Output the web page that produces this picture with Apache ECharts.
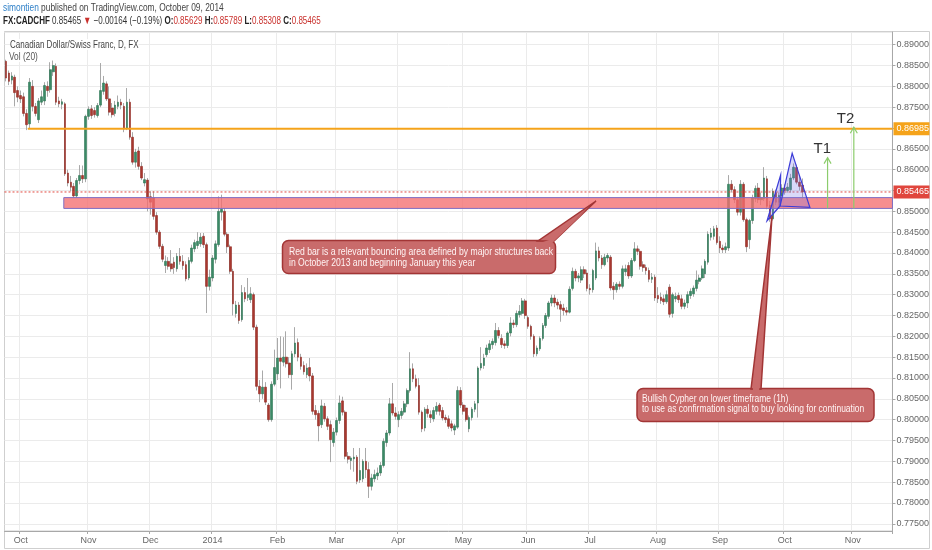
<!DOCTYPE html>
<html>
<head>
<meta charset="utf-8">
<script src="https://cdn.jsdelivr.net/npm/echarts@6/dist/echarts.min.js"></script>
<style>
  html, body { margin: 0; padding: 0; background: #fff; }
  #chart { width: 932px; height: 550px; }
</style>
</head>
<body>
<div id="chart"></div>
<script>
// CADCHF daily. rows are [open, close, low, high]
var candles = [
  [.8860,.8820,.8812,.8864],[.8832,.8812,.8803,.8838],[.8815,.8825,.8805,.8834],[.8822,.8785,.8752,.8828],
  [.8790,.8774,.8762,.8800],[.8778,.8770,.8760,.8790],[.8775,.8735,.8728,.8785],[.8735,.8708,.8695,.8745],
  [.8710,.8810,.8700,.8820],[.8800,.8752,.8740,.8815],[.8752,.8735,.8728,.8760],[.8720,.8765,.8712,.8772],
  [.8762,.8775,.8755,.8790],[.8765,.8802,.8755,.8810],[.8800,.8790,.8775,.8812],[.8792,.8840,.8785,.8858],
  [.8835,.8850,.8825,.8862],[.8848,.8762,.8755,.8855],[.8765,.8758,.8750,.8775],[.8757,.8763,.8745,.8770],
  [.8758,.8590,.8585,.8762],[.8592,.8568,.8560,.8600],[.8570,.8558,.8548,.8585],[.8560,.8537,.8533,.8568],
  [.8537,.8574,.8532,.8580],[.8574,.8586,.8565,.8611],[.8586,.8578,.8568,.8610],[.8578,.8728,.8570,.8732],
  [.8728,.8745,.8720,.8752],[.8746,.8730,.8722,.8755],[.8742,.8732,.8725,.8750],[.8730,.8754,.8725,.8760],
  [.8755,.8790,.8750,.8856],[.8788,.8808,.8780,.8825],[.8806,.8770,.8765,.8812],[.8770,.8738,.8730,.8800],
  [.8748,.8732,.8725,.8760],[.8735,.8755,.8728,.8765],[.8752,.8762,.8745,.8778],[.8762,.8755,.8745,.8770],
  [.8752,.8698,.8690,.8760],[.8700,.8762,.8695,.8796],[.8762,.8678,.8672,.8770],[.8678,.8618,.8612,.8690],
  [.8618,.8642,.8605,.8650],[.8645,.8608,.8600,.8655],[.8608,.8580,.8575,.8618],[.8568,.8576,.8560,.8592],
  [.8575,.8530,.8500,.8580],[.8535,.8522,.8492,.8548],[.8532,.8488,.8480,.8548],[.8490,.8450,.8444,.8498],
  [.8450,.8416,.8410,.8455],[.8416,.8385,.8378,.8422],[.8370,.8380,.8352,.8394],[.8380,.8368,.8360,.8390],
  [.8374,.8362,.8355,.8407],[.8378,.8365,.8350,.8390],[.8362,.8392,.8355,.8400],[.8392,.8380,.8372,.8412],
  [.8380,.8370,.8360,.8395],[.8372,.8338,.8332,.8380],[.8340,.8382,.8335,.8390],[.8380,.8412,.8375,.8420],
  [.8410,.8425,.8402,.8432],[.8418,.8428,.8410,.8450],[.8422,.8438,.8415,.8448],[.8440,.8420,.8412,.8448],
  [.8420,.8320,.8256,.8425],[.8320,.8342,.8310,.8360],[.8340,.8388,.8332,.8395],[.8385,.8422,.8375,.8430],
  [.8420,.8500,.8415,.8536],[.8498,.8505,.8478,.8540],[.8500,.8445,.8440,.8508],[.8445,.8415,.8400,.8450],
  [.8415,.8356,.8350,.8420],[.8356,.8278,.8250,.8362],[.8255,.8275,.8245,.8285],[.8275,.8238,.8230,.8282],
  [.8240,.8305,.8235,.8323],[.8305,.8290,.8282,.8318],[.8293,.8300,.8285,.8340],[.8288,.8302,.8280,.8318],
  [.8300,.8222,.8215,.8305],[.8222,.8080,.8070,.8228],[.8080,.8062,.8042,.8095],[.8062,.8078,.8050,.8118],
  [.8078,.8042,.8035,.8090],[.8035,.8000,.7995,.8040],[.8000,.8085,.7995,.8092],[.8085,.8125,.8080,.8168],
  [.8110,.8148,.8095,.8196],[.8148,.8140,.8075,.8200],[.8138,.8150,.8128,.8198],[.8150,.8134,.8125,.8212],
  [.8136,.8108,.8100,.8150],[.8108,.8158,.8072,.8165],[.8158,.8184,.8150,.8222],[.8185,.8150,.8140,.8195],
  [.8150,.8128,.8120,.8158],[.8130,.8115,.8108,.8140],[.8108,.8124,.8100,.8135],[.8125,.8105,.8092,.8148],
  [.8105,.8020,.8012,.8112],[.8022,.8012,.8000,.8035],[.8015,.7985,.7948,.8022],[.7988,.8033,.7980,.8048],
  [.8032,.8002,.7995,.8040],[.8002,.7984,.7975,.8008],[.7988,.7952,.7898,.7998],[.7945,.7970,.7935,.7980],
  [.7970,.7998,.7962,.8005],[.7998,.8040,.7990,.8058],[.8045,.8018,.8010,.8055],[.8018,.7912,.7905,.8022],
  [.7912,.7905,.7895,.7922],[.7902,.7908,.7880,.7912],[.7906,.7910,.7875,.7932],[.7910,.7852,.7845,.7915],
  [.7855,.7878,.7848,.7932],[.7858,.7900,.7850,.7905],[.7900,.7880,.7860,.7932],[.7880,.7840,.7812,.7898],
  [.7840,.7860,.7830,.7870],[.7858,.7868,.7850,.7880],[.7865,.7872,.7855,.7885],
  [.7872,.7890,.7865,.7898],[.7890,.7948,.7885,.7955],[.7945,.7968,.7935,.7975],[.7968,.8038,.7962,.8052],
  [.8038,.8016,.8010,.8088],[.8016,.8008,.8000,.8030],[.8000,.8012,.7982,.8020],[.8010,.8020,.8002,.8028],
  [.8018,.8038,.8012,.8045],[.8038,.8070,.8030,.8075],[.8070,.8122,.8065,.8162],[.8122,.8098,.8090,.8135],
  [.8098,.8080,.8075,.8108],[.8082,.8018,.8012,.8100],[.8018,.7978,.7970,.8022],[.7980,.8025,.7972,.8030],
  [.8025,.8015,.8005,.8035],[.8012,.8005,.7992,.8022],[.8002,.8022,.7995,.8030],
  [.8020,.8032,.8012,.8042],[.8035,.8020,.8010,.8040],[.8022,.8004,.7998,.8030],[.8005,.8000,.7992,.8012],
  [.8002,.7984,.7978,.8010],[.7990,.7980,.7972,.7998],[.7975,.7985,.7963,.7990],[.7982,.8070,.7978,.8080],
  [.8070,.8035,.8028,.8078],[.8035,.8020,.8012,.8042],[.8028,.8000,.7995,.8035],[.7978,.8005,.7970,.8010],
  [.8005,.8025,.7998,.8030],[.8025,.8038,.8018,.8045],[.8040,.8124,.8005,.8128],[.8124,.8135,.8118,.8174],
  [.8130,.8148,.8122,.8158],[.8156,.8172,.8150,.8180],[.8168,.8182,.8160,.8191],[.8180,.8188,.8170,.8195],
  [.8185,.8214,.8178,.8232],[.8214,.8202,.8195,.8222],[.8195,.8180,.8172,.8205],[.8182,.8178,.8170,.8190],
  [.8178,.8208,.8172,.8212],[.8208,.8232,.8200,.8246],[.8232,.8228,.8220,.8240],[.8228,.8255,.8222,.8262],
  [.8252,.8260,.8245,.8275],[.8255,.8285,.8250,.8292],[.8285,.8250,.8242,.8290],[.8245,.8224,.8218,.8250],
  [.8224,.8200,.8192,.8228],[.8200,.8158,.8150,.8205],[.8158,.8172,.8152,.8178],[.8170,.8195,.8165,.8200],
  [.8195,.8226,.8190,.8232],[.8226,.8250,.8220,.8256],[.8248,.8280,.8242,.8285],[.8280,.8292,.8272,.8300],
  [.8292,.8280,.8270,.8300],[.8282,.8275,.8265,.8290],[.8276,.8265,.8235,.8285],[.8268,.8262,.8250,.8278],
  [.8262,.8258,.8250,.8270],[.8258,.8313,.8255,.8320],[.8315,.8356,.8310,.8365],[.8356,.8340,.8332,.8362],
  [.8340,.8345,.8330,.8352],[.8335,.8360,.8328,.8368],[.8360,.8350,.8340,.8368],[.8352,.8315,.8308,.8360],
  [.8315,.8312,.8300,.8325],[.8312,.8358,.8305,.8362],[.8340,.8405,.8335,.8425],[.8405,.8388,.8380,.8415],
  [.8388,.8372,.8362,.8395],[.8372,.8390,.8368,.8398],[.8388,.8394,.8378,.8400],
  [.8390,.8316,.8310,.8395],[.8320,.8312,.8288,.8330],[.8312,.8325,.8305,.8330],[.8325,.8320,.8312,.8332],
  [.8320,.8362,.8315,.8370],[.8355,.8362,.8345,.8372],[.8370,.8345,.8338,.8378],[.8345,.8382,.8340,.8388],
  [.8382,.8410,.8378,.8426],[.8410,.8404,.8395,.8418],[.8404,.8368,.8360,.8410],[.8372,.8365,.8355,.8380],
  [.8365,.8358,.8348,.8372],[.8358,.8337,.8330,.8365],[.8337,.8342,.8328,.8352],[.8342,.8292,.8285,.8348],
  [.8298,.8290,.8280,.8318],[.8294,.8286,.8278,.8305],[.8290,.8283,.8275,.8300],[.8283,.8300,.8278,.8310],
  [.8318,.8253,.8245,.8325],[.8255,.8300,.8245,.8305],[.8290,.8296,.8282,.8305],[.8298,.8288,.8280,.8305],
  [.8290,.8272,.8265,.8300],[.8272,.8280,.8265,.8288],[.8280,.8300,.8268,.8308],[.8298,.8308,.8290,.8315],
  [.8302,.8316,.8295,.8322],[.8315,.8335,.8308,.8358],[.8332,.8340,.8325,.8348],[.8340,.8362,.8335,.8370],
  [.8350,.8380,.8340,.8385],[.8378,.8445,.8372,.8452],[.8438,.8448,.8430,.8460],[.8440,.8458,.8432,.8465],
  [.8460,.8425,.8420,.8467],[.8428,.8412,.8400,.8440],[.8412,.8408,.8400,.8420],[.8408,.8415,.8400,.8425],
  [.8412,.8565,.8405,.8587],[.8565,.8552,.8545,.8575],[.8552,.8528,.8520,.8560],[.8528,.8498,.8490,.8535],
  [.8498,.8565,.8490,.8575],[.8565,.8480,.8475,.8570],[.8480,.8415,.8402,.8485],[.8432,.8478,.8410,.8482],
  [.8478,.8532,.8470,.8540],[.8530,.8555,.8522,.8562],[.8556,.8528,.8520,.8568],[.8528,.8532,.8515,.8545],
  [.8530,.8580,.8525,.8606],[.8578,.8512,.8505,.8585],[.8515,.8482,.8475,.8525],[.8482,.8548,.8478,.8555],
  [.8545,.8522,.8515,.8552],[.8522,.8538,.8512,.8545],[.8538,.8556,.8530,.8565],[.8556,.8550,.8540,.8565],
  [.8550,.8558,.8545,.8568],[.8552,.8580,.8545,.8590],[.8580,.8606,.8575,.8615],[.8605,.8570,.8565,.8612],
  [.8570,.8560,.8550,.8585],[.85629,.85465,.85308,.85789]
];

// time axis: weekdays from the first bar (the chart skips Christmas and New Year), plus empty room on the right
var firstDay = '2013-09-24';
var slotCount = 301;
var skipDays = ['2013-12-25', '2014-01-01'];
var monthNames = ['Jan','Feb','Mar','Apr','May','Jun','Jul','Aug','Sep','Oct','Nov','Dec'];

// drawn levels and annotations (bar index, price)
var bandLow = 0.8507, bandHigh = 0.8533, bandStart = 19.6;
var targetLevel = 0.86985, targetStart = 7.4;
var lastClose = 0.85465;
var cypherIdx = [258.0, 262.6, 262.4, 266.5, 272.5];      // X, A, B, C, D
var cypherPrice = [0.84775, 0.85872, 0.85128, 0.86393, 0.85097];
var arrowIdx = [278.5, 287.4];
var arrowTop = [0.8629, 0.8702];
var arrowNames = ['T1', 'T2'];

var FONT = '"Liberation Sans", Arial, sans-serif';

function tradingDays(start, n) {
  var out = [];
  var d = new Date(start + 'T00:00:00Z');
  while (out.length < n) {
    var wd = d.getUTCDay();
    var s = d.toISOString().slice(0, 10);
    if (wd !== 0 && wd !== 6 && skipDays.indexOf(s) < 0) out.push(s);
    d.setUTCDate(d.getUTCDate() + 1);
  }
  return out;
}

var days = tradingDays(firstDay, slotCount);
var monthStart = days.map(function(d, i) {
  return i > 0 && d.slice(5, 7) !== days[i - 1].slice(5, 7);
});

var bodies = candles.map(function(r) {
  return [r[0], r[1], Math.min(r[0], r[1]), Math.max(r[0], r[1])];
});

var chart = echarts.init(document.getElementById('chart'));

function priceTag(cs, y, text, bg) {
  var x0 = cs.x + cs.width + 1;
  return [
    { type: 'rect', shape: { x: x0, y: y - 6.5, width: 36, height: 13 }, style: { fill: bg } },
    { type: 'text', style: { text: text, x: x0 + 3, y: y - 5, fill: '#fff', font: '9px ' + FONT } }
  ];
}

function renderNotes(params, api) {
  var cs = params.coordSys;
  function pt(idx, price) {
    var i0 = Math.floor(idx), f = idx - i0;
    var a = api.coord([i0, price]), b = api.coord([i0 + 1, price]);
    return [a[0] + (b[0] - a[0]) * f, a[1]];
  }
  var right = cs.x + cs.width;
  var kids = [];

  // support band
  var bTop = pt(bandStart, bandHigh), bBot = pt(bandStart, bandLow);
  kids.push({
    type: 'rect',
    shape: { x: bTop[0], y: bTop[1], width: right - bTop[0], height: bBot[1] - bTop[1] },
    style: { fill: 'rgba(243,110,112,0.78)', stroke: '#7f6fc4', lineWidth: 1 }
  });

  // last close, dotted
  var yc = pt(0, lastClose)[1];
  kids.push({ type: 'line', shape: { x1: cs.x, y1: yc, x2: right, y2: yc }, style: { stroke: '#e0463d', lineWidth: 1, lineDash: [2, 2] } });

  // target level
  var t = pt(targetStart, targetLevel);
  kids.push({ type: 'line', shape: { x1: t[0], y1: t[1], x2: right, y2: t[1] }, style: { stroke: '#f5a31a', lineWidth: 2 } });

  // cypher pattern
  var p = cypherIdx.map(function(v, i) { return pt(v, cypherPrice[i]); });
  var cyStyle = { fill: 'rgba(120,120,235,0.28)', stroke: '#3d3dd8', lineWidth: 1.2 };
  kids.push({ type: 'polygon', shape: { points: [p[0], p[1], p[2]] }, style: cyStyle });
  kids.push({ type: 'polygon', shape: { points: [p[2], p[3], p[4]] }, style: cyStyle });

  // T1 / T2 arrows
  arrowIdx.forEach(function(idx, i) {
    var top = pt(idx, arrowTop[i]), bot = pt(idx, bandLow);
    var st = { stroke: '#8ccc6c', lineWidth: 1.2, fill: null };
    kids.push({ type: 'line', shape: { x1: bot[0], y1: bot[1], x2: top[0], y2: top[1] }, style: st });
    kids.push({ type: 'polyline', shape: { points: [[top[0] - 3.5, top[1] + 6], top, [top[0] + 3.5, top[1] + 6]] }, style: st });
    kids.push({
      type: 'text',
      style: { text: arrowNames[i], x: top[0] - 14 - i * 3, y: top[1] - 16, fill: '#333', font: '15px ' + FONT }
    });
  });

  kids = kids.concat(priceTag(cs, t[1], targetLevel.toFixed(5), '#f5a31a'));
  kids = kids.concat(priceTag(cs, yc, lastClose.toFixed(5), '#e0463d'));
  return { type: 'group', children: kids };
}

var calloutFill = '#c96b6b';
var calloutStroke = '#a23535';

function narrowText(x, y, text, size, sx, fill, extra) {
  var st = { x: 0, y: 0, text: text, font: size + 'px ' + FONT, fill: fill };
  for (var k in extra) st[k] = extra[k];
  return { type: 'text', silent: true, x: x, y: y, scaleX: sx, z: 52, style: st };
}

var option = {
  animation: false,
  backgroundColor: '#fff',
  grid: { left: 4.5, right: 39, top: 32, bottom: 19, show: true, borderColor: '#cfcfcf', borderWidth: 1 },
  xAxis: {
    type: 'category',
    data: days,
    boundaryGap: true,
    axisLine: { lineStyle: { color: '#a8a8a8' } },
    axisTick: { show: true, length: 3, interval: function(i) { return monthStart[i]; }, lineStyle: { color: '#a8a8a8' } },
    axisLabel: {
      interval: function(i) { return monthStart[i]; },
      formatter: function(v) {
        var m = +v.slice(5, 7);
        return m === 1 ? v.slice(0, 4) : monthNames[m - 1];
      },
      color: '#666', fontSize: 9, fontFamily: FONT, margin: 5
    },
    splitLine: { show: true, interval: function(i) { return monthStart[i]; }, lineStyle: { color: '#ebebeb' } }
  },
  yAxis: {
    type: 'value',
    position: 'right',
    min: 0.77327,
    max: 0.89305,
    splitNumber: 24,
    scale: true,
    axisLine: { show: true, lineStyle: { color: '#a8a8a8' } },
    axisTick: { show: true, length: 3, lineStyle: { color: '#a8a8a8' } },
    axisLabel: {
      showMinLabel: false, showMaxLabel: false,
      formatter: function(v) { return v.toFixed(5); },
      color: '#666', fontSize: 9, fontFamily: FONT, margin: 4
    },
    splitLine: { show: true, lineStyle: { color: '#ebebeb' } }
  },
  series: [
    {
      name: 'wicks',
      type: 'candlestick',
      data: candles,
      barWidth: 1,
      silent: true,
      itemStyle: { color: '#a9a9a9', color0: '#a9a9a9', borderColor: '#a9a9a9', borderColor0: '#a9a9a9', borderWidth: 1 }
    },
    {
      name: 'CADCHF',
      type: 'candlestick',
      data: bodies,
      barWidth: 2.2,
      silent: true,
      itemStyle: { color: '#3b8a66', color0: '#a8382f', borderColor: '#2f7556', borderColor0: '#922c25', borderWidth: 0.6 }
    },
    {
      name: 'notes',
      type: 'custom',
      data: [[0, lastClose]],
      encode: { x: 0, y: 1 },
      silent: true,
      clip: false,
      z: 5,
      renderItem: renderNotes
    }
  ],
  graphic: [
    { type: 'rect', silent: true, shape: { x: 4.5, y: 31.5, width: 925, height: 517 }, style: { fill: 'none', stroke: '#cfcfcf', lineWidth: 1 } },
    narrowText(3, 2, '{u|simontien} published on TradingView.com, October 09, 2014', 11, 0.76, '#444',
      { rich: { u: { fill: '#2f80c8', fontSize: 11, fontFamily: FONT } } }),
    narrowText(3, 15, '{b|FX:CADCHF} 0.85465 {r|\u25BC} \u22120.00164 (\u22120.19%) {b|O:}{r|0.85629} {b|H:}{r|0.85789} {b|L:}{r|0.85308} {b|C:}{r|0.85465}', 11, 0.73, '#333',
      { rich: { b: { fontWeight: 'bold', fill: '#222', fontSize: 11, fontFamily: FONT }, r: { fill: '#c9302c', fontSize: 11, fontFamily: FONT } } }),
    narrowText(10, 39, 'Canadian Dollar/Swiss Franc, D, FX', 11, 0.73, '#444', { backgroundColor: 'rgba(255,255,255,0.9)' }),
    narrowText(9, 51, 'Vol (20)', 11, 0.76, '#555', { backgroundColor: 'rgba(255,255,255,0.9)' }),

    // callout about the red bar
    { type: 'rect', z: 50, silent: true, shape: { x: 282.5, y: 240.5, width: 273, height: 33, r: 6 }, style: { fill: calloutFill, stroke: calloutStroke, lineWidth: 1.5 } },
    { type: 'polygon', z: 50, silent: true, shape: { points: [[538, 241], [554, 241], [596, 201]] }, style: { fill: calloutFill, stroke: calloutStroke, lineWidth: 1.5 } },
    { type: 'polygon', z: 51, silent: true, shape: { points: [[540, 243], [552, 243], [590, 207], [552, 239]] }, style: { fill: calloutFill } },
    narrowText(289, 246, 'Red bar is a relevant bouncing area defined by major structures back\nin October 2013 and beginning January this year', 11, 0.785, '#fff4f4', { lineHeight: 11 }),

    // callout about the cypher
    { type: 'rect', z: 50, silent: true, shape: { x: 637, y: 388.5, width: 237, height: 33, r: 6 }, style: { fill: calloutFill, stroke: calloutStroke, lineWidth: 1.5 } },
    { type: 'polygon', z: 50, silent: true, shape: { points: [[751, 389], [761, 389], [772, 216]] }, style: { fill: calloutFill, stroke: calloutStroke, lineWidth: 1.5 } },
    { type: 'polygon', z: 51, silent: true, shape: { points: [[753, 391], [759, 391], [760, 380], [753, 380]] }, style: { fill: calloutFill } },
    narrowText(642, 394, 'Bullish Cypher on lower timeframe (1h)\nto use as confirmation signal to buy looking for continuation', 11, 0.77, '#fff4f4', { lineHeight: 10 })
  ]
};

chart.setOption(option);
</script>
</body>
</html>
